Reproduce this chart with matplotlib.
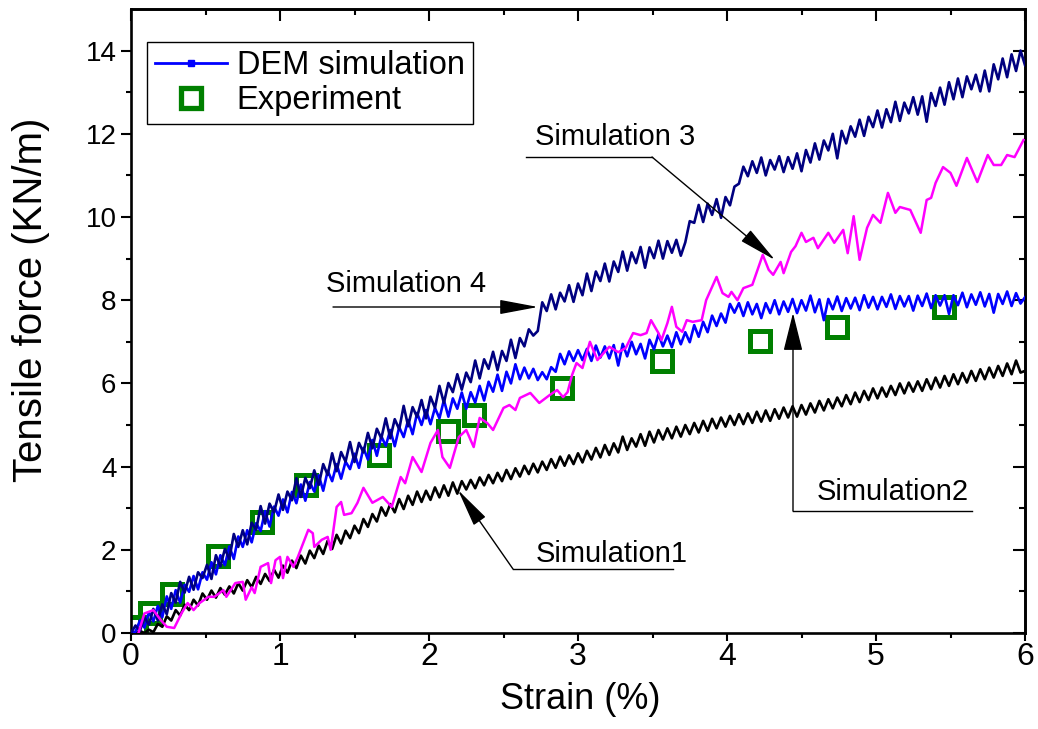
import numpy as np
import matplotlib
matplotlib.use("Agg")
import matplotlib.pyplot as plt
from matplotlib.lines import Line2D

plt.rcParams['font.family'] = ['Liberation Sans', 'DejaVu Sans']

# ---------------- data ----------------
# strain grid shared by the three DEM runs (0 to 6 %, step 0.03 %)
strain_grid = np.linspace(0.0, 6.0, 201)

sim4_force = [
    0.00, 0.18, 0.05, 0.38, 0.20, 0.58, 0.30, 0.69, 0.45, 0.96,
    0.73, 1.23, 0.97, 1.35, 1.04, 1.46, 1.32, 1.64, 1.30, 1.87,
    1.60, 2.02, 1.78, 2.38, 2.07, 2.47, 2.13, 2.65, 2.48, 3.05,
    2.63, 3.11, 2.90, 3.33, 2.96, 3.40, 3.19, 3.72, 3.27, 3.73,
    3.48, 3.91, 3.56, 4.06, 3.80, 4.32, 3.89, 4.35, 4.12, 4.59,
    4.11, 4.57, 4.34, 4.81, 4.44, 4.91, 4.68, 5.16, 4.68, 5.14,
    4.90, 5.46, 4.97, 5.43, 5.19, 5.60, 5.16, 5.68, 5.41, 5.94,
    5.53, 6.01, 5.79, 6.22, 5.85, 6.26, 6.03, 6.55, 6.12, 6.58,
    6.35, 6.76, 6.32, 6.78, 6.54, 7.05, 6.61, 7.09, 6.89, 7.30,
    7.15, 7.26, 7.95, 7.74, 8.14, 7.78, 8.18, 7.97, 8.36, 7.96,
    8.40, 8.12, 8.64, 8.22, 8.69, 8.46, 8.88, 8.45, 8.93, 8.68,
    9.17, 8.71, 9.15, 8.89, 9.28, 8.78, 9.27, 9.01, 9.43, 9.00,
    9.42, 9.14, 9.45, 9.07, 9.39, 9.90, 9.86, 10.29, 9.88, 10.32,
    10.05, 10.43, 9.98, 10.48, 10.28, 10.73, 10.80, 11.21, 10.98, 11.34,
    11.06, 11.43, 11.00, 11.37, 11.14, 11.46, 11.08, 11.44, 11.16, 11.53,
    11.10, 11.61, 11.31, 11.77, 11.38, 11.84, 11.60, 12.00, 11.41, 12.07,
    11.77, 12.18, 11.93, 12.34, 11.95, 12.41, 12.16, 12.56, 12.15, 12.59,
    12.28, 12.77, 12.31, 12.75, 12.49, 12.88, 12.46, 12.90, 12.29, 12.98,
    12.67, 13.11, 12.70, 13.24, 12.83, 13.33, 12.88, 13.38, 13.07, 13.42,
    13.02, 13.52, 13.02, 13.67, 13.31, 13.81, 13.36, 13.91, 13.51, 14.00,
    13.65,
]

sim2_force = [
    0.00, 0.03, 0.30, 0.13, 0.50, 0.28, 0.65, 0.38, 0.88, 0.58,
    1.03, 0.73, 1.16, 0.99, 1.37, 1.05, 1.46, 1.28, 1.70, 1.41,
    1.87, 1.63, 2.08, 1.78, 2.32, 2.07, 2.47, 2.18, 2.64, 2.45,
    2.93, 2.56, 3.04, 2.82, 3.21, 2.90, 3.39, 3.12, 3.57, 3.18,
    3.63, 3.40, 3.79, 3.42, 3.90, 3.65, 4.06, 3.71, 4.12, 3.94,
    4.31, 3.97, 4.45, 4.17, 4.64, 4.26, 4.73, 4.50, 4.88, 4.49,
    4.95, 4.71, 5.12, 4.78, 5.29, 5.00, 5.36, 5.02, 5.41, 5.16,
    5.60, 5.20, 5.64, 5.39, 5.78, 5.39, 5.79, 5.54, 5.94, 5.59,
    6.04, 5.80, 6.21, 5.82, 6.28, 6.00, 6.46, 6.10, 6.38, 6.12,
    6.35, 6.08, 6.27, 6.10, 6.39, 6.28, 6.71, 6.46, 6.77, 6.54,
    6.80, 6.56, 6.83, 6.54, 6.91, 6.62, 6.89, 6.60, 6.92, 6.43,
    6.95, 6.65, 7.00, 6.70, 6.95, 6.60, 7.05, 6.82, 7.18, 6.89,
    7.15, 6.87, 7.23, 6.94, 7.23, 6.99, 7.40, 7.12, 7.48, 7.23,
    7.63, 7.38, 7.68, 7.46, 7.91, 7.70, 7.93, 7.62, 7.95, 7.66,
    7.91, 7.57, 7.93, 7.69, 8.00, 7.66, 7.97, 7.72, 8.03, 7.69,
    8.00, 7.75, 8.11, 7.71, 8.02, 7.52, 8.03, 7.78, 8.09, 7.74,
    8.05, 7.80, 8.06, 7.76, 8.12, 7.82, 8.08, 7.78, 8.08, 7.84,
    8.14, 7.79, 8.10, 7.85, 8.10, 7.75, 8.11, 7.86, 8.16, 7.81,
    8.12, 7.87, 8.12, 7.67, 8.12, 7.88, 8.18, 7.83, 8.14, 7.89,
    8.19, 7.85, 8.15, 7.70, 8.15, 7.91, 8.21, 7.86, 8.17, 7.92,
    8.07,
]

sim1_force = [
    0.00, 0.00, 0.05, 0.00, 0.08, 0.02, 0.22, 0.15, 0.40, 0.30,
    0.55, 0.42, 0.68, 0.55, 0.80, 0.66, 0.95, 0.80, 1.02, 0.85,
    1.08, 0.92, 1.12, 0.95, 1.20, 1.02, 1.27, 1.10, 1.35, 1.18,
    1.42, 1.25, 1.52, 1.33, 1.62, 1.45, 1.74, 1.56, 1.86, 1.67,
    1.98, 1.80, 2.10, 1.90, 2.22, 2.02, 2.36, 2.15, 2.46, 2.28,
    2.58, 2.40, 2.74, 2.55, 2.86, 2.68, 3.02, 2.82, 3.10, 2.90,
    3.22, 2.98, 3.30, 3.08, 3.40, 3.15, 3.42, 3.20, 3.50, 3.26,
    3.55, 3.30, 3.62, 3.35, 3.65, 3.45, 3.68, 3.48, 3.74, 3.55,
    3.80, 3.60, 3.85, 3.65, 3.92, 3.70, 3.96, 3.76, 4.02, 3.82,
    4.07, 3.86, 4.12, 3.92, 4.18, 3.97, 4.24, 4.02, 4.27, 4.06,
    4.32, 4.10, 4.38, 4.17, 4.45, 4.22, 4.52, 4.28, 4.56, 4.34,
    4.72, 4.40, 4.68, 4.48, 4.78, 4.50, 4.84, 4.58, 4.88, 4.65,
    4.92, 4.68, 4.96, 4.72, 5.00, 4.78, 5.05, 4.82, 5.10, 4.86,
    5.15, 4.92, 5.18, 4.96, 5.22, 5.00, 5.26, 5.02, 5.28, 5.05,
    5.32, 5.08, 5.35, 5.10, 5.38, 5.15, 5.42, 5.18, 5.45, 5.20,
    5.48, 5.25, 5.52, 5.30, 5.58, 5.35, 5.62, 5.40, 5.66, 5.45,
    5.72, 5.50, 5.78, 5.55, 5.82, 5.60, 5.88, 5.64, 5.90, 5.68,
    5.94, 5.72, 6.00, 5.76, 6.02, 5.80, 6.05, 5.82, 6.10, 5.86,
    6.14, 5.90, 6.18, 5.94, 6.22, 5.98, 6.25, 6.02, 6.30, 6.06,
    6.34, 6.10, 6.38, 6.14, 6.42, 6.18, 6.48, 6.22, 6.55, 6.26,
    6.30,
]

sim3_strain = [
    0.05, 0.09, 0.15, 0.20, 0.24, 0.29, 0.34, 0.38, 0.42, 0.46,
    0.52, 0.56, 0.62, 0.64, 0.70, 0.75, 0.77, 0.81, 0.83, 0.87,
    0.92, 0.94, 0.97, 1.00, 1.02, 1.05, 1.09, 1.12, 1.19, 1.22,
    1.23, 1.28, 1.32, 1.34, 1.38, 1.41, 1.43, 1.48, 1.52, 1.56,
    1.62, 1.69, 1.75, 1.81, 1.84, 1.89, 1.95, 2.01, 2.06, 2.09,
    2.14, 2.20, 2.25, 2.30, 2.34, 2.39, 2.43, 2.50, 2.54, 2.58,
    2.61, 2.68, 2.74, 2.81, 2.86, 2.90, 2.93, 2.96, 2.99, 3.03,
    3.08, 3.13, 3.21, 3.27, 3.32, 3.37, 3.42, 3.46, 3.49, 3.54,
    3.56, 3.60, 3.63, 3.66, 3.70, 3.73, 3.77, 3.83, 3.86, 3.93,
    3.97, 4.01, 4.03, 4.07, 4.11, 4.17, 4.24, 4.28, 4.31, 4.36,
    4.38, 4.43, 4.46, 4.50, 4.53, 4.58, 4.61, 4.68, 4.72, 4.78,
    4.81, 4.85, 4.89, 4.94, 4.98, 5.03, 5.08, 5.13, 5.16, 5.23,
    5.30, 5.34, 5.37, 5.40, 5.45, 5.50, 5.54, 5.61, 5.68, 5.75,
    5.79, 5.84, 5.88, 5.93, 5.99,
]
sim3_force = [
    0.00, 0.47, 0.55, 0.31, 0.15, 0.12, 0.48, 0.72, 0.55, 0.72,
    0.87, 0.87, 1.03, 0.87, 1.20, 1.23, 0.80, 1.10, 0.96, 1.59,
    1.68, 1.20, 1.75, 1.83, 1.32, 1.83, 1.59, 1.83, 2.48, 2.40,
    2.07, 2.24, 2.31, 2.00, 3.03, 3.15, 2.84, 2.88, 3.13, 3.49,
    3.13, 3.27, 3.03, 3.75, 3.60, 4.23, 3.87, 4.57, 4.88, 4.23,
    3.97, 4.71, 4.88, 4.47, 5.17, 5.05, 4.88, 5.41, 5.48, 5.36,
    5.65, 5.77, 5.53, 5.72, 5.84, 5.67, 5.79, 6.20, 6.49, 6.37,
    7.00, 6.56, 6.88, 6.75, 6.85, 7.21, 7.16, 7.21, 7.52, 7.21,
    7.04, 7.45, 7.84, 7.36, 7.24, 7.52, 7.48, 7.52, 8.00, 8.56,
    8.17, 8.08, 8.20, 8.00, 8.29, 8.37, 9.09, 8.73, 8.61, 8.92,
    8.65, 9.16, 9.30, 9.62, 9.40, 9.50, 9.25, 9.62, 9.38, 9.69,
    9.13, 10.02, 8.97, 9.74, 10.05, 9.86, 10.58, 10.10, 10.24, 10.17,
    9.62, 10.41, 10.46, 10.82, 11.20, 11.06, 10.75, 11.42, 10.84, 11.49,
    11.25, 11.25, 11.49, 11.44, 11.85,
]

exp_strain = [0.035, 0.13, 0.275, 0.584, 0.879, 1.174, 1.664, 2.128,
              2.302, 2.893, 3.564, 4.221, 4.738, 5.456]
exp_force = [0.15, 0.48, 0.94, 1.85, 2.67, 3.56, 4.28, 4.86,
             5.24, 5.89, 6.54, 7.02, 7.36, 7.84]

x_ticks = [0, 1, 2, 3, 4, 5, 6]
y_ticks = [0, 2, 4, 6, 8, 10, 12, 14]

# ---------------- figure ----------------
W, H = 1038, 729
fig = plt.figure(figsize=(W / 100, H / 100), dpi=100)
L, R, B, T = 131, 1025, 633, 9
ax = fig.add_axes([L / W, 1 - B / H, (R - L) / W, (B - T) / H])

GREEN = '#008000'
ax.plot(exp_strain, exp_force, ls='none', marker='s', ms=14.5,
        mfc='none', mec=GREEN, mew=3.6, zorder=2)
ax.plot(strain_grid, sim1_force, color='black', lw=1.9, zorder=3)
ax.plot(strain_grid, sim2_force, color='#0000FF', lw=1.9, zorder=4)
ax.plot(strain_grid, sim4_force, color='#000080', lw=1.9, zorder=5)
ax.plot(sim3_strain, sim3_force, color='#FF00FF', lw=1.8, zorder=6)

ax.set_xlim(0, 6)
ax.set_ylim(0, 15)
ax.set_xticks(x_ticks)
ax.set_yticks(y_ticks)
ax.set_xticks(np.arange(0.5, 6, 1.0), minor=True)
ax.set_yticks(np.arange(1, 15, 2), minor=True)

for sp in ax.spines.values():
    sp.set_linewidth(1.9)

ax.tick_params(axis='x', which='major', direction='out', length=5.5, width=1.5,
               pad=1, labelsize=23)
ax.tick_params(axis='x', which='minor', direction='out', length=3.5, width=1.5)
ax.tick_params(axis='y', which='major', direction='out', length=7, width=1.5,
               pad=3.5, labelsize=20)
ax.tick_params(axis='y', which='minor', direction='out', length=3.6, width=1.5)

# mirrored inward ticks on the top and right edges
top = ax.secondary_xaxis('top')
top.set_xticks(x_ticks)
top.set_xticks(np.arange(0.5, 6, 1.0), minor=True)
top.tick_params(which='major', direction='in', length=8.6, width=1.5, labeltop=False)
top.tick_params(which='minor', direction='in', length=4.3, width=1.5)
top.spines['top'].set_linewidth(1.9)
right = ax.secondary_yaxis('right')
right.set_yticks(y_ticks)
right.set_yticks(np.arange(1, 15, 2), minor=True)
right.tick_params(which='major', direction='in', length=8.6, width=1.5, labelright=False)
right.tick_params(which='minor', direction='in', length=4.3, width=1.5)
right.spines['right'].set_linewidth(1.9)

ax.set_xlabel('Strain (%)', fontsize=26)
ax.xaxis.set_label_coords(0.502, -0.079)
ax.set_ylabel('Tensile force (KN/m)', fontsize=29)
ax.yaxis.set_label_coords(-0.091, 0.534)

# legend
handles = [
    Line2D([], [], color='#0000FF', lw=2.0, marker='s', ms=5),
    Line2D([], [], ls='none', marker='s', ms=15, mfc='none', mec=GREEN, mew=3.8),
]
leg = ax.legend(handles, ['DEM simulation', 'Experiment'], loc='upper left',
                bbox_to_anchor=(0.0179, 0.947), borderaxespad=0, fontsize=23.5,
                fancybox=False, edgecolor='black', framealpha=1,
                handlelength=2.2, handletextpad=0.3, labelspacing=0.12,
                borderpad=0.25, numpoints=1)
leg.get_frame().set_linewidth(1.0)


def to_data(px, py):
    return (px - L) / (R - L) * 6.0, (B - py) / (B - T) * 15.0


head = dict(arrowstyle='-|>,head_length=1.6,head_width=0.3', mutation_scale=15,
            color='black', lw=1.0, shrinkA=0, shrinkB=0)
head_v = dict(arrowstyle='-|>,head_length=1.6,head_width=0.4', mutation_scale=15,
              color='black', lw=1.0, shrinkA=0, shrinkB=0)


def leader(p0, p1):
    (x0, y0), (x1, y1) = to_data(*p0), to_data(*p1)
    ax.plot([x0, x1], [y0, y1], color='black', lw=1.0, clip_on=False, zorder=7)


def arrow(p_from, p_to, props):
    ax.annotate('', xy=to_data(*p_to), xytext=to_data(*p_from),
                arrowprops=props, zorder=8)


def label(text, px, py):
    ax.text(*to_data(px, py), text, fontsize=21, ha='left', va='baseline', zorder=8)


# Simulation 3
label('Simulation 3', 535, 145)
leader((526, 157), (652, 157))
arrow((652, 157), (775, 260), head)
# Simulation 4
label('Simulation 4', 326, 292)
arrow((333, 307), (538, 307), head)
# Simulation2
label('Simulation2', 817, 500)
leader((972, 511), (793, 511))
arrow((793, 511), (793, 313), head_v)
# Simulation1
label('Simulation1', 536, 562)
leader((673, 569), (513, 569))
arrow((513, 569), (458, 490), head)

fig.savefig('out.png', dpi=100)
